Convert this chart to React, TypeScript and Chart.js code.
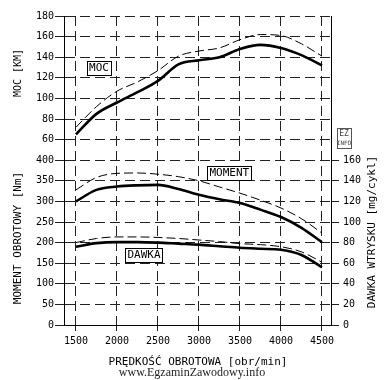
import React, { useEffect, useRef } from "react";
import { Chart, registerables } from "chart.js";

Chart.register(...registerables);

const rpm = [1500, 1750, 2000, 2250, 2500, 2750, 3000, 3250, 3500, 3750, 4000, 4250, 4500];
const xTicks = [1500, 2000, 2500, 3000, 3500, 4000, 4500];
const mocSolid = [65, 85, 96, 106, 117, 133, 137, 140, 148, 152, 149, 142, 132];
const mocDashed = [72, 92, 107, 116, 127, 141, 146, 149, 157, 162, 161, 153, 141];
const momentSolid = [300, 328, 336, 339, 340, 330, 316, 305, 296, 280, 262, 236, 201];
const momentDashed = [328, 358, 368, 369, 366, 360, 350, 335, 320, 303, 284, 258, 223];
const dawkaSolid = [76, 79.5, 80.5, 80.5, 80, 79, 78, 76.5, 75, 74, 73, 68, 56];
const dawkaDashed = [80, 84, 85.5, 85.5, 85, 84, 82.5, 81, 79, 78, 76, 71, 61];
const leftNmLabels = ["0", "50", "100", "150", "200", "250", "300", "350", "400"];
const leftMocLabels = ["60", "80", "100", "120", "140", "160", "180"];
const rightLabels = ["0", "20", "40", "60", "80", "100", "120", "140", "160"];

const MONO = "'DejaVu Sans Mono', monospace";

const pts = (ys: number[]) => rpm.map((x, i) => ({ x, y: ys[i] }));

const solid = (data: number[], axis: string) => ({
  data: pts(data),
  yAxisID: axis,
  borderColor: "#000",
  borderWidth: 2.6,
  pointRadius: 0,
  cubicInterpolationMode: "monotone" as const,
  fill: false,
});
const dashed = (data: number[], axis: string) => ({
  data: pts(data),
  yAxisID: axis,
  borderColor: "#000",
  borderWidth: 1,
  borderDash: [9, 4],
  pointRadius: 0,
  cubicInterpolationMode: "monotone" as const,
  fill: false,
});

const textPlugin = {
  id: "texts",
  afterDraw(chart: any) {
    const ctx = chart.ctx;
    const xs = chart.scales.x;
    const yl = chart.scales.yL;
    const ca = chart.chartArea;
    ctx.save();
    ctx.fillStyle = "#000";
    ctx.strokeStyle = "#000";
    ctx.textAlign = "center";
    ctx.textBaseline = "middle";

    const rot = (t: string, x: number, y: number, font: string) => {
      ctx.save();
      ctx.translate(x, y);
      ctx.rotate(-Math.PI / 2);
      ctx.font = font;
      ctx.fillText(t, 0, 0);
      ctx.restore();
    };
    rot("MOC [KM]", 18, 73, `10px ${MONO}`);
    rot("MOMENT OBROTOWY [Nm]", 18, 238, `11px ${MONO}`);
    rot("DAWKA WTRYSKU [mg/cykl]", 372, 232, `11px ${MONO}`);

    ctx.font = `11px ${MONO}`;
    ctx.fillText("PRĘDKOŚĆ OBROTOWA [obr/min]", 198, 362);
    ctx.font = `12px 'Liberation Serif', 'DejaVu Serif', serif`;
    ctx.fillStyle = "#222";
    ctx.fillText("www.EgzaminZawodowy.info", 192, 373);
    ctx.fillStyle = "#000";

    const box = (t: string, xv: number, iv: number) => {
      const px = xs.getPixelForValue(xv);
      const py = yl.getPixelForValue(iv);
      ctx.font = `11px ${MONO}`;
      const w = ctx.measureText(t).width + 4;
      ctx.fillStyle = "#fff";
      ctx.fillRect(px - w / 2, py - 7, w, 14);
      ctx.fillStyle = "#000";
      ctx.lineWidth = 1;
      ctx.strokeRect(Math.round(px - w / 2) + 0.5, Math.round(py - 7) + 0.5, Math.round(w), 14);
      ctx.fillText(t, px, py + 0.5);
    };
    box("MOC", 1781, 12.48);
    box("MOMENT", 3370, 7.38);
    box("DAWKA", 2330, 3.4);

    const ex = ca.right + 13;
    const ey = yl.getPixelForValue(9.08);
    ctx.lineWidth = 1;
    ctx.strokeStyle = "#555";
    ctx.strokeRect(Math.round(ex - 7) + 0.5, Math.round(ey - 10) + 0.5, 14, 20);
    ctx.fillStyle = "#444";
    ctx.font = `8px ${MONO}`;
    ctx.fillText("EZ", ex, ey - 4);
    ctx.font = `6px ${MONO}`;
    ctx.fillText("INFO", ex, ey + 5);
    ctx.restore();
  },
};

export default function App() {
  const ref = useRef<HTMLCanvasElement>(null);
  useEffect(() => {
    if (!ref.current) return;
    const gridOpts = { color: "#222", lineWidth: 1 };
    const borderOpts = { display: true, color: "#000", width: 1, dash: [10, 5] };
    const chart = new Chart(ref.current, {
      type: "line",
      data: {
        datasets: [
          solid(mocSolid, "yMoc"),
          dashed(mocDashed, "yMoc"),
          solid(momentSolid, "yNm"),
          dashed(momentDashed, "yNm"),
          solid(dawkaSolid, "yDw"),
          dashed(dawkaDashed, "yDw"),
        ] as any,
      },
      options: {
        animation: false,
        responsive: false,
        maintainAspectRatio: false,
        layout: { padding: { top: 16, left: 0, right: 0, bottom: 0 } },
        plugins: { legend: { display: false }, tooltip: { enabled: false } },
        scales: {
          x: {
            type: "linear",
            min: 1354,
            max: 4610,
            afterBuildTicks: (s: any) => {
              s.ticks = xTicks.map((v) => ({ value: v }));
            },
            afterFit: (s: any) => {
              s.height = 55;
            },
            grid: { ...gridOpts, tickLength: 6 },
            border: borderOpts,
            ticks: {
              font: { family: MONO, size: 10 },
              color: "#000",
              padding: 4,
              maxRotation: 0,
              callback: (v: any) => String(v),
            },
          },
          yL: {
            type: "linear",
            position: "left",
            min: 0,
            max: 15,
            afterBuildTicks: (s: any) => {
              const t: any[] = [];
              for (let i = 0; i <= 15; i++) t.push({ value: i });
              s.ticks = t;
            },
            afterFit: (s: any) => {
              s.width = 64;
            },
            grid: { ...gridOpts, tickLength: 9 },
            border: borderOpts,
            ticks: {
              font: { family: MONO, size: 10 },
              color: "#000",
              padding: 1,
              callback: (v: any) => {
                const i = Math.round(Number(v));
                return i <= 8 ? leftNmLabels[i] : leftMocLabels[i - 9];
              },
            },
          },
          yR: {
            type: "linear",
            position: "right",
            min: 0,
            max: 15,
            afterBuildTicks: (s: any) => {
              s.ticks = rightLabels.map((_, i) => ({ value: i }));
            },
            afterFit: (s: any) => {
              s.width = 57;
            },
            grid: { drawOnChartArea: false, color: "#222", tickLength: 8 },
            border: { display: true, color: "#000", width: 1 },
            ticks: {
              font: { family: MONO, size: 10 },
              color: "#000",
              padding: 4,
              callback: (v: any) => rightLabels[Math.round(Number(v))],
            },
          },
          yMoc: { type: "linear", display: false, min: -120, max: 180 },
          yNm: { type: "linear", display: false, min: 0, max: 750 },
          yDw: { type: "linear", display: false, min: 0, max: 300 },
        } as any,
      },
      plugins: [textPlugin],
    });
    return () => chart.destroy();
  }, []);
  return (
    <div style={{ position: "fixed", left: 0, top: 0, width: 388, height: 380, background: "#fff" }}>
      <canvas ref={ref} width={388} height={380} style={{ width: 388, height: 380, display: "block" }} />
    </div>
  );
}
